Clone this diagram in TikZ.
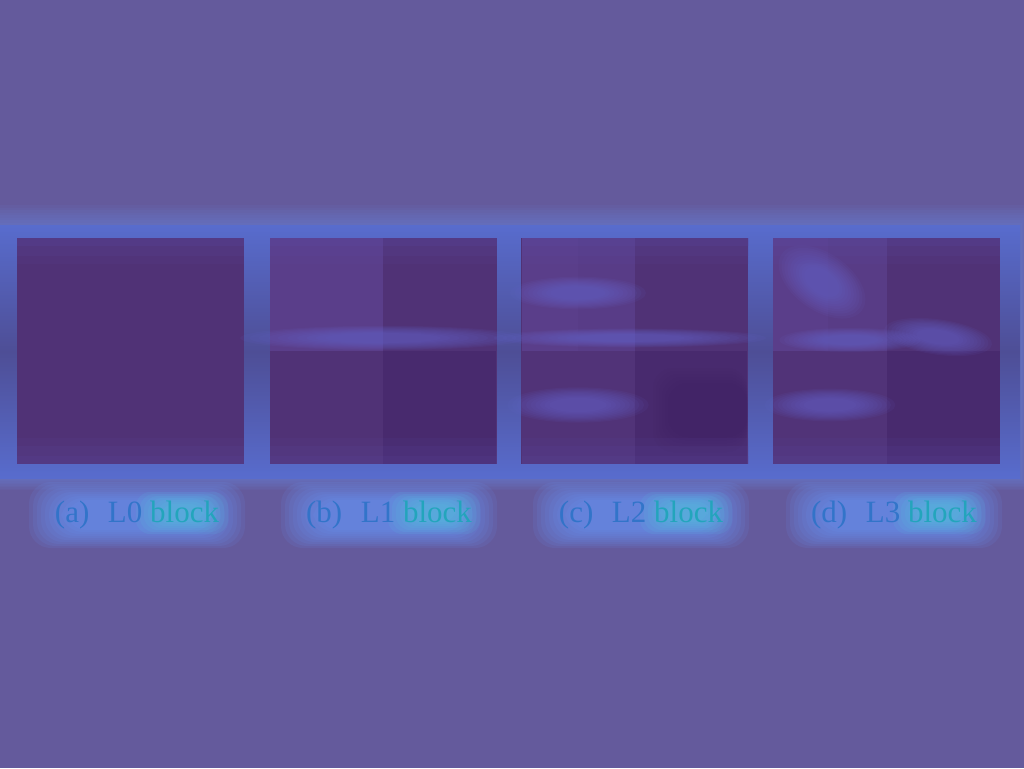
\documentclass[tikz,border=0pt]{standalone}
\usepackage{fontspec}
\setmainfont{Liberation Serif}
\definecolor{bg}{RGB}{100,90,156}
\definecolor{bandedge}{RGB}{88,108,205}
\definecolor{bandmid}{RGB}{78,78,150}
\definecolor{glowblue}{RGB}{105,155,255}
\definecolor{glowcyan}{RGB}{80,215,230}
\definecolor{sq}{RGB}{80,50,118}
\definecolor{sqlight}{RGB}{90,62,138}
\definecolor{sqdark}{RGB}{72,42,110}
\definecolor{sqedge}{RGB}{90,75,165}
\definecolor{blobc}{RGB}{105,105,210}
\definecolor{lblblue}{RGB}{45,115,200}
\definecolor{lblteal}{RGB}{30,165,185}
\newcommand{\myblob}[5]{%
  \foreach \k in {1,...,10}{%
    \fill[blobc, opacity=0.08, rotate around={#5:(#1,#2)}] (#1,#2) ellipse ({#3*(1.45-\k*0.09)} and {#4*(1.45-\k*0.09)});}}
\tikzset{
  blocksq/.style={rectangle, fill=sq, minimum width=227pt, minimum height=226pt, inner sep=0pt, outer sep=0pt},
  lbl/.style={font=\fontsize{31}{36}\selectfont, inner sep=0pt},
}
\begin{document}
\begin{tikzpicture}[x=1pt,y=-1pt]
\useasboundingbox (0,0) rectangle (1024,768);
\fill[bg] (0,0) rectangle (1024,768);
% band glow
\foreach \i in {1,...,8}
  \fill[glowblue, opacity=0.05] (0,225-\i*2.5) rectangle (1021+\i,478+\i*1.5);
\shade[top color=bandedge, bottom color=bandedge, middle color=bandmid] (0,225) rectangle (1020,478);
\fill[bandedge, opacity=0.5] (0,225) rectangle (1020,232);
\fill[bandedge, opacity=0.5] (0,471) rectangle (1020,478);

% squares
\node[blocksq] (A) at (130.5,351) {};
\node[blocksq] (B) at (383,351) {};
\node[blocksq] (C) at (634.5,351) {};
\node[blocksq] (D) at (886.5,351) {};

% (b) L1 quadrants
\fill[sqlight] (270,238) rectangle (383,351);
\fill[sqdark] (383,351) rectangle (496,464);
\myblob{383}{338}{105}{9}{0}

% (c) L2
\fill[sqlight] (522,238) rectangle (578,351);
\fill[sqlight!85!sq] (578,238) rectangle (635,351);
\fill[sq!90!sqlight] (522,351) rectangle (635,464);
\fill[sqdark] (635,351) rectangle (747,464);
\foreach \k in {1,...,6}
  \fill[sqdark!70!black, opacity=0.03, rounded corners=20pt] (650+\k*3,365+\k*3) rectangle (747,455-\k*3);
\myblob{578}{293}{50}{12}{0}
\myblob{578}{405}{52}{13}{0}
\myblob{630}{338}{100}{7}{0}

% (d) L3
\fill[sqlight] (773,238) rectangle (828,351);
\fill[sqlight!80!sq] (828,238) rectangle (887,351);
\fill[sq!90!sqlight] (773,351) rectangle (887,464);
\fill[sqdark] (887,351) rectangle (1000,464);
\myblob{822}{282}{36}{21}{-35}
\myblob{938}{337}{40}{13}{-8}
\myblob{830}{405}{48}{12}{0}
\myblob{850}{340}{52}{9}{0}

% soft top/bottom edges of squares
\foreach \x in {17,270,522,773}{
  \fill[sqedge, opacity=0.35] (\x,238) rectangle ++(227,8);
  \fill[sqedge, opacity=0.2] (\x,246) rectangle ++(227,10);
  \fill[sqedge, opacity=0.1] (\x,256) rectangle ++(227,8);
  \fill[sqedge, opacity=0.1] (\x,438) rectangle ++(227,8);
  \fill[sqedge, opacity=0.2] (\x,446) rectangle ++(227,10);
  \fill[sqedge, opacity=0.3] (\x,456) rectangle ++(227,8);
}

% label glows
\foreach \cx in {137,389,641,894}{
  \foreach \i in {1,...,10}
    \fill[glowblue, opacity=0.1, rounded corners=22pt] (\cx-112+\i*4,480+\i*2) rectangle (\cx+112-\i*4,550-\i*2);
  \foreach \i in {1,...,7}
    \fill[glowcyan, opacity=0.09, rounded corners=14pt] (\cx-5+\i*4,490+\i*2) rectangle (\cx+95-\i*4,536-\i*2);
}

% labels
\node[lbl, anchor=base, opacity=0.9] (LA) at (137,522) {\textcolor{lblblue}{(a)\hspace{0.6em}L0} \textcolor{lblteal}{block}};
\node[lbl, anchor=base, opacity=0.9] (LB) at (389,522) {\textcolor{lblblue}{(b)\hspace{0.6em}L1} \textcolor{lblteal}{block}};
\node[lbl, anchor=base, opacity=0.9] (LC) at (641,522) {\textcolor{lblblue}{(c)\hspace{0.6em}L2} \textcolor{lblteal}{block}};
\node[lbl, anchor=base, opacity=0.9] (LD) at (894,522) {\textcolor{lblblue}{(d)\hspace{0.6em}L3} \textcolor{lblteal}{block}};
\end{tikzpicture}
\end{document}
